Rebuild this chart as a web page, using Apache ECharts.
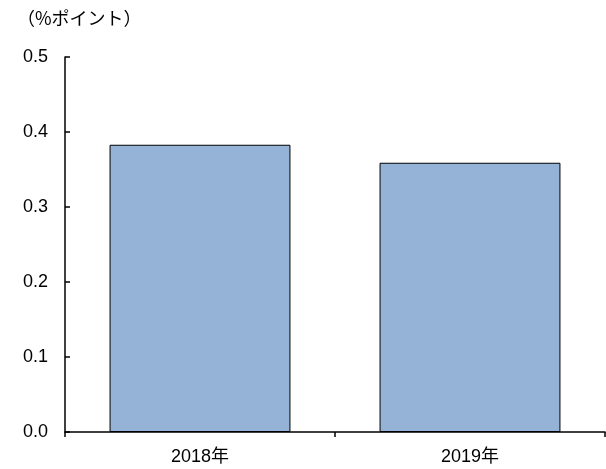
<!DOCTYPE html>
<html><head><meta charset="utf-8">
<script src="https://cdn.jsdelivr.net/npm/echarts@6/dist/echarts.min.js"></script>
<style>html,body{margin:0;padding:0;background:#fff}#c{width:606px;height:469px}</style>
</head><body><div id="c"></div>
<script>
const categories = ['2018年', '2019年'];
const values = [0.383, 0.359];
const unitLabel = '（%ポイント）';
const chart = echarts.init(document.getElementById('c'));
const font = '"Liberation Sans", "Noto Sans CJK JP", sans-serif';
chart.setOption({
  animation: false,
  title: { text: unitLabel, left: 12, top: 4, textStyle: { fontSize: 18, fontWeight: 'normal', color: '#000', fontFamily: '"Noto Sans CJK JP", sans-serif' } },
  grid: { left: 65, right: 1, top: 57, bottom: 37 },
  xAxis: {
    type: 'category', data: categories,
    axisLine: { lineStyle: { color: '#000', width: 1.5 } },
    axisTick: { show: true, length: 5, inside: false, lineStyle: { color: '#000', width: 1.5 } },
    axisLabel: { color: '#000', fontSize: 18, margin: 16, fontFamily: font }
  },
  yAxis: {
    type: 'value', min: 0, max: 0.5, interval: 0.1,
    splitLine: { show: false },
    axisLine: { show: true, lineStyle: { color: '#000', width: 1.5 } },
    axisTick: { show: true, inside: true, length: 5, lineStyle: { color: '#000', width: 1.5 } },
    axisLabel: { color: '#000', fontSize: 18, margin: 17, fontFamily: font, formatter: v => v.toFixed(1) }
  },
  series: [{
    type: 'bar', data: values, barCategoryGap: '33%',
    itemStyle: { color: '#95B3D7', borderColor: '#000', borderWidth: 1 }
  }]
});
</script></body></html>
